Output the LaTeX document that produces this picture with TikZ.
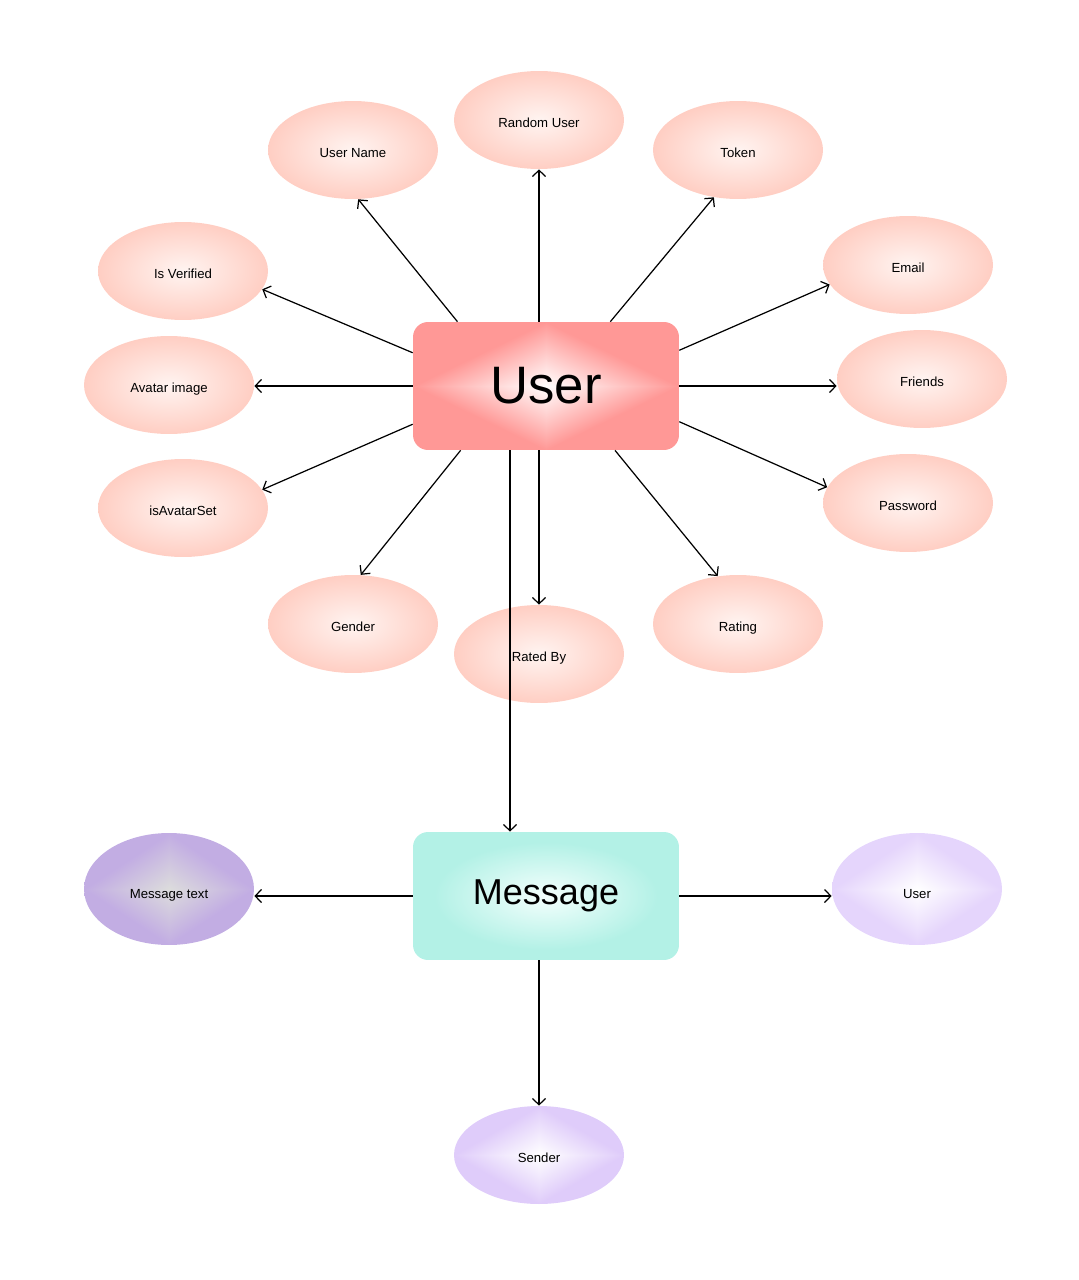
\documentclass[tikz,border=0pt]{standalone}
\usepackage{fontspec}
\setmainfont{Liberation Sans}
\usetikzlibrary{shapes.geometric,arrows.meta,calc}

\definecolor{pinkin}{HTML}{FFF4F1}
\definecolor{pinkout}{HTML}{FFCEC3}
\definecolor{tealin}{HTML}{F4FFFD}
\definecolor{tealout}{HTML}{B3F1E6}

% Shadings
\pgfdeclareradialshading{attr-pink}{\pgfpointorigin}{color(0bp)=(pinkin); color(25bp)=(pinkout); color(50bp)=(pinkout)}
\pgfdeclareradialshading{entity-teal}{\pgfpointorigin}{color(0bp)=(tealin); color(21bp)=(tealout); color(50bp)=(tealout)}
% diamond shadings: t = (|x|+|y|)/25, then r g b
\pgfdeclarefunctionalshading{entity-pink}{\pgfpoint{-50bp}{-50bp}}{\pgfpoint{50bp}{50bp}}{}{
  abs exch abs add 25 div dup 1 gt {pop 1} if
  dup 0 mul 1 add exch dup -0.404 mul 1 add exch -0.412 mul 1 add}
\pgfdeclarefunctionalshading{attr-grey}{\pgfpoint{-50bp}{-50bp}}{\pgfpoint{50bp}{50bp}}{}{
  abs exch abs add 25 div dup 1 gt {pop 1} if
  dup -0.102 mul 0.863 add exch dup -0.185 mul 0.863 add exch 0.027 mul 0.863 add}
\pgfdeclarefunctionalshading{attr-lilac}{\pgfpoint{-50bp}{-50bp}}{\pgfpoint{50bp}{50bp}}{}{
  abs exch abs add 25 div dup 1 gt {pop 1} if
  dup -0.102 mul 1 add exch dup -0.165 mul 1 add exch -0.012 mul 1 add}
\pgfdeclarefunctionalshading{attr-violet}{\pgfpoint{-50bp}{-50bp}}{\pgfpoint{50bp}{50bp}}{}{
  abs exch abs add 25 div dup 1 gt {pop 1} if
  dup -0.125 mul 1 add exch dup -0.2 mul 1 add exch -0.02 mul 1 add}

\begin{document}
\begin{tikzpicture}[x=0.02cm,y=-0.02cm,
  attr/.style={ellipse, minimum width=\attrwidth, minimum height=\attrheight, inner sep=0pt,
    text height=8.5pt, text depth=0pt, font=\fontsize{7.5}{9}\selectfont, shading=attr-pink},
  entity/.style={rectangle, rounded corners=0.3cm, minimum width=\boxwidth, minimum height=\boxheight, inner sep=0pt},
  arr/.style={-{Straight Barb[length=3.6pt,width=7.4pt]}, line width=0.7pt}]
\def\attrwidth{3.4cm}
\def\attrheight{1.96cm}
\def\boxwidth{5.32cm}
\def\boxheight{2.56cm}
\def\offset{36}

\useasboundingbox (0,0) rectangle (1078,1280);

% Entities
\node[entity, shading=entity-pink, font=\fontsize{30}{36}\selectfont] (user) at (546,386) {User};
\node[entity, shading=entity-teal, font=\fontsize{20.5}{24}\selectfont] (message) at (546,896) {Message};

% User attributes
\node[attr] (random-user) at (539,120) {Random User};
\node[attr] (user-name) at (353,150) {User Name};
\node[attr] (token) at (738,150) {Token};
\node[attr] (is-verified) at (183,271) {Is Verified};
\node[attr] (email) at (908,265) {Email};
\node[attr] (avatar-image) at (169,385) {Avatar image};
\node[attr] (friends) at (922,379) {Friends};
\node[attr] (is-avatar-set) at (183,508) {isAvatarSet};
\node[attr] (password) at (908,503) {Password};
\node[attr] (gender) at (353,624) {Gender};
\node[attr] (rated-by) at (539,654) {Rated By};
\node[attr] (rating) at (738,624) {Rating};

% Message attributes
\node[attr, shading=attr-grey, minimum height=2.24cm, text height=11pt] (message-text) at (169,889) {Message text};
\node[attr, shading=attr-lilac, minimum height=2.24cm, text height=11pt] (message-user) at (917,889) {User};
\node[attr, shading=attr-violet] (sender) at (539,1155) {Sender};

% Connections
\draw[arr] (user.north -| random-user.south) -- (random-user.south);
\draw[arr] (user.144) -- (user-name.276);
\draw[arr] (user.45) -- (token.243);
\draw[arr] (user.166) -- (is-verified.-13);
\draw[arr] (user.15) -- (email.194);
\draw[arr] (user.west) -- (avatar-image.east |- user.west);
\draw[arr] (user.east) -- (user.east -| friends.west);
\draw[arr] (user.196) -- (is-avatar-set.13);
\draw[arr] (user.-15) -- (password.169);
\draw[arr] (user.217) -- (gender.81);
\draw[arr] (user.south -| rated-by.north) -- (rated-by.north);
\draw[arr] (user.-43) -- (rating.113);
\draw[arr] ($(user.south)+(-\offset,0)$) -- ($(message.north)+(-\offset,0)$);

\draw[arr] (message.west) -- (message.west -| message-text.east);
\draw[arr] (message.east) -- (message.east -| message-user.west);
\draw[arr] (message.south -| sender.north) -- (sender.north);

\end{tikzpicture}
\end{document}
